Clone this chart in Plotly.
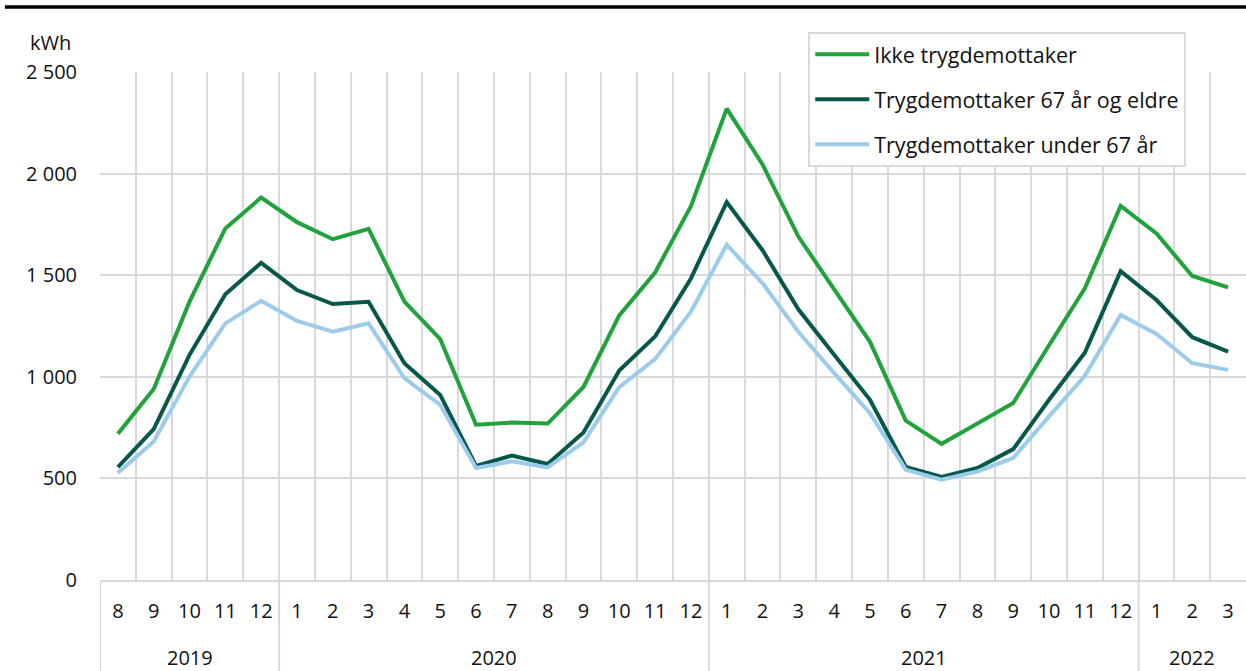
import plotly.graph_objects as go

years = ["2019"] * 5 + ["2020"] * 12 + ["2021"] * 12 + ["2022"] * 3
months = ["8", "9", "10", "11", "12"] + [str(m) for m in range(1, 13)] * 2 + ["1", "2", "3"]

ikke = [720, 940, 1370, 1730, 1882, 1761, 1677, 1728, 1370, 1185, 764, 775, 770, 950, 1302, 1513,
        1840, 2320, 2045, 1690, 1430, 1172, 784, 670, 770, 871, 1155, 1435, 1841, 1705, 1496, 1440]
over67 = [556, 743, 1108, 1406, 1561, 1427, 1358, 1369, 1067, 911, 562, 612, 571, 726, 1031, 1198,
          1484, 1860, 1623, 1332, 1108, 887, 556, 507, 551, 644, 887, 1119, 1520, 1378, 1195, 1124]
under67 = [527, 682, 1001, 1263, 1374, 1275, 1222, 1263, 993, 862, 551, 584, 554, 677, 949, 1087,
           1320, 1650, 1460, 1222, 1018, 821, 543, 494, 534, 600, 805, 1005, 1304, 1211, 1067, 1034]

series_names = ["Ikke trygdemottaker", "Trygdemottaker 67 år og eldre", "Trygdemottaker under 67 år"]
series_colors = ["#1fa33a", "#07574a", "#9dcbec"]

y_tickvals = [0, 500, 1000, 1500, 2000, 2500]
y_ticktext = ["0", "500", "1 000", "1 500", "2 000", "2 500"]

FONT = "Open Sans"
TXT = "#111111"
GRID = "#d9d9d9"

xkeys = [f"{y}-{m}" for y, m in zip(years, months)]

fig = go.Figure()
for name, vals, col in zip(series_names, [ikke, over67, under67], series_colors):
    fig.add_trace(go.Scatter(
        x=xkeys, y=vals, name=name, mode="lines",
        line=dict(color=col, width=4), legendgroup=name,
    ))

# year groups: centers and boundaries derived from the years list
groups = []
for i, y in enumerate(years):
    if not groups or groups[-1][0] != y:
        groups.append([y, i, i])
    else:
        groups[-1][2] = i

annotations = [dict(text="kWh", xref="paper", yref="paper", x=-0.0436, y=1.059,
                    xanchor="center", yanchor="middle", showarrow=False,
                    font=dict(family=FONT, size=20, color=TXT))]
shapes = [dict(type="line", xref="paper", yref="paper", x0=-0.083, x1=1.0,
               y0=1.128, y1=1.128, line=dict(color="black", width=3.5))]
for y, a, b in groups:
    annotations.append(dict(text=y, xref="x", yref="paper", x=(a + b) / 2, y=-0.152,
                            xanchor="center", yanchor="middle", showarrow=False,
                            font=dict(family=FONT, size=20, color=TXT)))
    shapes.append(dict(type="line", xref="x", yref="paper", x0=a - 0.5, x1=a - 0.5,
                       y0=0, y1=-0.18, line=dict(color=GRID, width=2)))

fig.update_layout(
    width=1246, height=671,
    margin=dict(l=100, r=0, t=72, b=91, autoexpand=False),
    paper_bgcolor="white", plot_bgcolor="white",
    font=dict(family=FONT, size=20, color=TXT),
    showlegend=True,
    legend=dict(
        x=0.618, y=1.079, xanchor="left", yanchor="top",
        bgcolor="white", bordercolor=GRID, borderwidth=2,
        font=dict(family=FONT, size=21.5, color=TXT),
        tracegroupgap=14, itemwidth=54,
    ),
    xaxis=dict(
        type="category", tickvals=xkeys, ticktext=months, tickson="boundaries",
        range=[-0.5, len(xkeys) - 0.5], automargin=False,
        showgrid=True, gridcolor=GRID, gridwidth=2, showline=True, linecolor=GRID, linewidth=2,
        ticks="", ticklabelstandoff=12,
        tickfont=dict(family=FONT, size=20, color=TXT),
    ),
    yaxis=dict(
        range=[0, 2500], tickvals=y_tickvals, ticktext=y_ticktext, automargin=False,
        showgrid=True, gridcolor=GRID, gridwidth=2, zeroline=False,
        ticks="", ticklabelstandoff=22,
        tickfont=dict(family=FONT, size=20, color=TXT),
    ),
    shapes=shapes,
    annotations=annotations,
)

fig.write_html("out.html", config={"displayModeBar": False},
               post_script="document.body.style.margin='0';")
